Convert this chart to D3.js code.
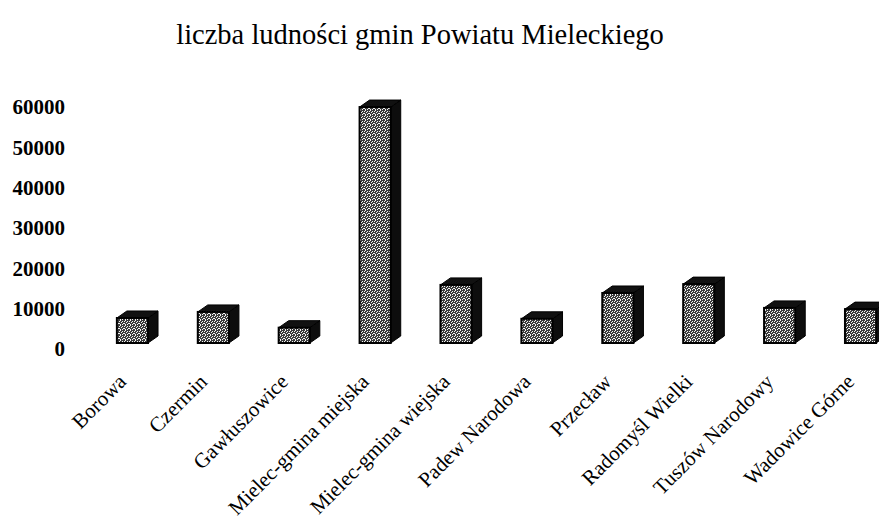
<!DOCTYPE html>
<html>
<head>
<meta charset="utf-8">
<script src="https://cdn.jsdelivr.net/npm/d3@7"></script>
<style>
  body { margin: 0; background: #fff; }
  text { font-family: "Liberation Serif", "Times New Roman", serif; }
</style>
</head>
<body>
<script>
var gminy = ["Borowa", "Czermin", "Gawłuszowice", "Mielec-gmina miejska", "Mielec-gmina wiejska",
  "Padew Narodowa", "Przecław", "Radomyśl Wielki", "Tuszów Narodowy", "Wadowice Górne"];
var ludnosc = [6200, 7700, 3800, 58500, 14400, 6000, 12400, 14600, 8700, 8400];
var ticks = [0, 10000, 20000, 30000, 40000, 50000, 60000];

var width = 879, height = 518;
var depthX = 10, depthY = 7, floorOff = 6;

var svg = d3.select("body").append("svg")
    .attr("width", width)
    .attr("height", height);

// stipple texture for the front faces
var defs = svg.append("defs");
var pat = defs.append("pattern")
    .attr("id", "stipple")
    .attr("width", 5).attr("height", 5)
    .attr("patternUnits", "userSpaceOnUse");
pat.append("rect").attr("width", 5).attr("height", 5).attr("fill", "#3a3a3a");
[[0, 0], [2, 1], [4, 1], [1, 2], [3, 3], [0, 4], [2, 4], [4, 3]].forEach(function(p) {
  pat.append("rect").attr("x", p[0]).attr("y", p[1]).attr("width", 1).attr("height", 1).attr("fill", "#f2f2f2");
});

var x = d3.scaleBand().domain(gminy).range([92, 901])
    .paddingInner(0.615).paddingOuter(0.3075);
var y = d3.scaleLinear().domain([0, 60000]).range([349, 107]);

svg.append("text")
    .attr("x", 420).attr("y", 44)
    .attr("text-anchor", "middle")
    .style("font-size", "28.5px")
    .text("liczba ludności gmin Powiatu Mieleckiego");

var yAxis = d3.axisLeft(y).tickValues(ticks).tickSize(0).tickPadding(0)
    .tickFormat(d3.format("d"));
svg.append("g")
    .attr("transform", "translate(65,0)")
    .call(yAxis)
    .call(function(g) { g.select(".domain").remove(); })
    .selectAll("text")
      .attr("fill", "#000")
      .style("font-family", "'Liberation Serif', serif")
      .style("font-size", "21px")
      .style("font-weight", "bold");

var bar = svg.selectAll(".bar")
    .data(gminy.map(function(g, i) { return {name: g, value: ludnosc[i]}; }))
    .enter().append("g")
    .attr("class", "bar");

function pts(a) { return a.map(function(p) { return p.join(","); }).join(" "); }

// side face
bar.append("polygon")
    .attr("points", function(d) {
      var x0 = x(d.name) + x.bandwidth(), y0 = y(0) - floorOff, y1 = y(d.value) - floorOff;
      return pts([[x0, y1], [x0 + depthX, y1 - depthY], [x0 + depthX, y0 - depthY], [x0, y0]]);
    })
    .attr("fill", "#0d0d0d").attr("stroke", "#000");
// top face
bar.append("polygon")
    .attr("points", function(d) {
      var x0 = x(d.name), x1 = x0 + x.bandwidth(), y1 = y(d.value) - floorOff;
      return pts([[x0, y1], [x0 + depthX, y1 - depthY], [x1 + depthX, y1 - depthY], [x1, y1]]);
    })
    .attr("fill", "#111").attr("stroke", "#000");
// front face
bar.append("rect")
    .attr("x", function(d) { return x(d.name); })
    .attr("y", function(d) { return y(d.value) - floorOff; })
    .attr("width", x.bandwidth())
    .attr("height", function(d) { return y(0) - y(d.value); })
    .attr("fill", "url(#stipple)")
    .attr("stroke", "#000").attr("stroke-width", 2);

svg.selectAll(".cat")
    .data(gminy)
    .enter().append("text")
    .attr("class", "cat")
    .attr("text-anchor", "end")
    .attr("transform", function(d) {
      return "translate(" + (x(d) + x.bandwidth() / 2 - 5) + ",383) rotate(-45)";
    })
    .style("font-size", "21px")
    .text(function(d) { return d; });
</script>
</body>
</html>
